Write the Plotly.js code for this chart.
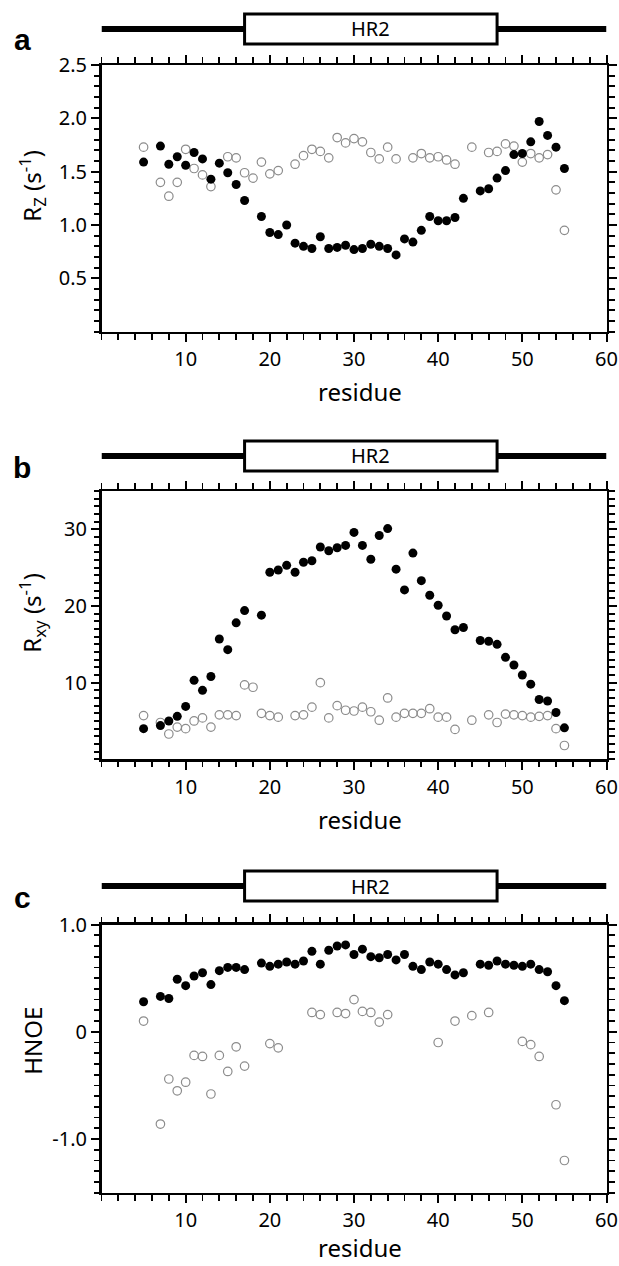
<!DOCTYPE html>
<html>
<head>
<meta charset="utf-8">
<script src="https://cdn.plot.ly/plotly-3.0.1.min.js"></script>
<style>html,body{margin:0;padding:0;background:#fff;}#chart{width:619px;height:1266px;}</style>
</head>
<body>
<div id="chart"></div>
<script>
// ---------------- data ----------------
const residues = [5,6,7,8,9,10,11,12,13,14,15,16,17,18,19,20,21,22,23,24,25,26,27,28,29,30,
  31,32,33,34,35,36,37,38,39,40,41,42,43,44,45,46,47,48,49,50,51,52,53,54,55];

// panel a : Rz (s^-1)
const rzFilled = [1.59,null,1.74,1.57,1.64,1.56,1.68,1.62,1.43,1.58,1.49,1.38,1.23,null,1.08,0.93,0.91,1.00,0.83,0.80,
  0.78,0.89,0.78,0.79,0.81,0.77,0.78,0.82,0.80,0.78,0.72,0.87,0.84,0.95,1.08,1.04,1.04,1.07,1.25,null,
  1.32,1.34,1.44,1.51,1.66,1.67,1.78,1.97,1.84,1.73,1.53];
const rzOpen = [1.73,null,1.40,1.27,1.40,1.71,1.53,1.47,1.36,null,1.64,1.63,1.49,1.44,1.59,1.48,1.51,null,1.57,1.65,
  1.71,1.69,1.63,1.82,1.77,1.81,1.78,1.68,1.62,1.73,1.62,null,1.63,1.67,1.63,1.64,1.61,1.57,null,1.73,
  null,1.68,1.69,1.76,1.74,1.59,1.67,1.63,1.66,1.33,0.95];

// panel b : Rxy (s^-1)
const rxyFilled = [4.0,null,4.4,5.0,5.6,6.9,10.3,9.0,10.8,15.7,14.3,17.8,19.4,null,18.8,24.4,24.7,25.3,24.4,25.7,
  25.9,27.7,27.2,27.6,27.9,29.6,27.9,26.1,29.2,30.1,24.8,22.1,26.9,23.3,21.4,20.1,18.7,16.9,17.2,null,
  15.5,15.4,15.0,13.3,12.3,11.0,9.8,7.8,7.6,6.1,4.1];
const rxyOpen = [5.7,null,4.8,3.3,4.2,4.0,5.0,5.4,4.2,5.8,5.8,5.7,9.7,9.4,6.0,5.7,5.5,null,5.7,5.8,
  6.8,10.0,5.4,7.0,6.4,6.3,6.8,6.2,5.1,8.0,5.5,6.0,6.0,6.0,6.6,5.5,5.5,3.9,null,5.1,
  null,5.8,4.8,5.9,5.8,5.7,5.5,5.6,5.7,4.0,1.8];

// panel c : HNOE
const hnoeFilled = [0.28,null,0.33,0.31,0.49,0.43,0.52,0.55,0.44,0.57,0.60,0.60,0.58,null,0.64,0.61,0.63,0.65,0.63,0.66,
  0.75,0.63,0.76,0.80,0.81,0.72,0.77,0.70,0.69,0.72,0.67,0.72,0.61,0.58,0.65,0.63,0.58,0.53,0.55,null,
  0.63,0.62,0.66,0.63,0.62,0.61,0.63,0.58,0.56,0.43,0.29];
const hnoeOpen = [0.10,null,-0.86,-0.44,-0.55,-0.47,-0.22,-0.23,-0.58,-0.22,-0.37,-0.14,-0.32,null,null,-0.11,-0.15,null,null,null,
  0.18,0.16,null,0.18,0.17,0.30,0.19,0.18,0.09,0.16,null,null,null,null,null,-0.10,null,0.10,null,0.15,
  null,0.18,null,null,null,-0.09,-0.12,-0.23,null,-0.68,-1.20];

// HR2 domain (residues) and labels
const hr2Start = 17, hr2End = 47, hr2Label = 'HR2';
const xTickVals = [10,20,30,40,50,60];
const xTickText = ['10','20','30','40','50','60'];
const yTicksA = {vals:[0.5,1.0,1.5,2.0,2.5], text:['0.5','1.0','1.5','2.0','2.5']};
const yTicksB = {vals:[10,20,30], text:['10','20','30']};
const yTicksC = {vals:[-1.0,0,1.0], text:['-1.0','0','1.0']};
const panelLetters = ['a','b','c'];
const yTitles = ['R<sub>Z</sub> (s<sup>-1</sup>)','R<sub>xy</sub> (s<sup>-1</sup>)','HNOE'];
const xTitle = 'residue';

// ---------------- layout helpers ----------------
const W = 619, H = 1266;
const P = px => 1 - px / H;
const X = px => px / W;
const xDom = [X(101.5), X(606.5)];
const panels = [
  {top:65,  bottom:331.7, line:29,  range:[0,2.5],  ticks:yTicksA, minor:0.1, ytitle:186, xtitle:391},
  {top:491, bottom:759.3, line:456, range:[0,35],   ticks:yTicksB, minor:1,   ytitle:613, xtitle:819},
  {top:924.5, bottom:1192.7, line:886, range:[-1.5,1.0], ticks:yTicksC, minor:0.1, ytitle:1041, xtitle:1247}
];
const series = [[rzFilled, rzOpen],[rxyFilled, rxyOpen],[hnoeFilled, hnoeOpen]];
const FONT = 'Noto Sans, Open Sans, sans-serif';

const traces = [];
const layout = {
  width: W, height: H, margin:{l:0,r:0,t:0,b:0},
  paper_bgcolor:'#fff', plot_bgcolor:'#fff', showlegend:false,
  font:{family:FONT, color:'#000', size:20},
  shapes:[], annotations:[]
};

panels.forEach((p, i) => {
  const n = i === 0 ? '' : String(i + 1);
  const xa = 'x' + n, ya = 'y' + n;
  traces.push({
    x: residues, y: series[i][1], xaxis: xa, yaxis: ya, type:'scatter', mode:'markers',
    marker:{symbol:'circle-open', size:8.5, color:'#8c8c8c', line:{width:1.2, color:'#8c8c8c'}},
    hoverinfo:'skip'
  });
  traces.push({
    x: residues, y: series[i][0], xaxis: xa, yaxis: ya, type:'scatter', mode:'markers',
    marker:{symbol:'circle', size:9, color:'#000'},
    hoverinfo:'skip'
  });
  const common = {
    showline:true, linecolor:'#000', linewidth:2.5, mirror:'ticks',
    ticks:'outside', ticklen:8, tickwidth:2, tickcolor:'#000',
    showgrid:false, zeroline:false, fixedrange:true,
    tickfont:{family:FONT, size:20, color:'#000'}
  };
  layout['xaxis' + n] = Object.assign({}, common, {
    domain: xDom, anchor: ya, range:[0,60],
    tickmode:'array', tickvals: xTickVals, ticktext: xTickText,
    minor:{dtick:2, tick0:0, ticks:'outside', ticklen:5.5, tickwidth:1.8, tickcolor:'#000', showgrid:false}
  });
  layout['yaxis' + n] = Object.assign({}, common, {
    domain:[P(p.bottom), P(p.top)], anchor: xa, range: p.range,
    tickmode:'array', tickvals: p.ticks.vals, ticktext: p.ticks.text,
    minor:{dtick:p.minor, tick0:0, ticks:'outside', ticklen:5.5, tickwidth:1.8, tickcolor:'#000', showgrid:false}
  });
  // HR2 schematic
  layout.shapes.push({type:'line', xref:xa, yref:'paper', x0:0, x1:60, y0:P(p.line), y1:P(p.line),
    line:{color:'#000', width:6}});
  layout.shapes.push({type:'rect', xref:xa, yref:'paper', x0:hr2Start, x1:hr2End, y0:P(p.line+15), y1:P(p.line-15),
    fillcolor:'#fff', line:{color:'#000', width:3}});
  layout.annotations.push({xref:xa, yref:'paper', x:(hr2Start+hr2End)/2, y:P(p.line), text:hr2Label,
    showarrow:false, xanchor:'center', yanchor:'middle', font:{family:FONT, size:20, color:'#000'}});
  // panel letter
  layout.annotations.push({xref:'paper', yref:'paper', x:X(22), y:P(p.line+11), text:'<b>'+panelLetters[i]+'</b>',
    showarrow:false, xanchor:'center', yanchor:'middle', font:{family:'Liberation Sans, Arial, sans-serif', size:30, color:'#000'}});
  // axis titles
  layout.annotations.push({xref:'paper', yref:'paper', x:X(360), y:P(p.xtitle), text:xTitle,
    showarrow:false, xanchor:'center', yanchor:'middle', font:{family:FONT, size:24, color:'#000'}});
  layout.annotations.push({xref:'paper', yref:'paper', x:X(31.7), y:P(p.ytitle), text:yTitles[i], textangle:-90,
    showarrow:false, xanchor:'center', yanchor:'middle', font:{family:FONT, size:24, color:'#000'}});
});

Plotly.newPlot('chart', traces, layout, {displayModeBar:false, staticPlot:true});
</script>
</body>
</html>
